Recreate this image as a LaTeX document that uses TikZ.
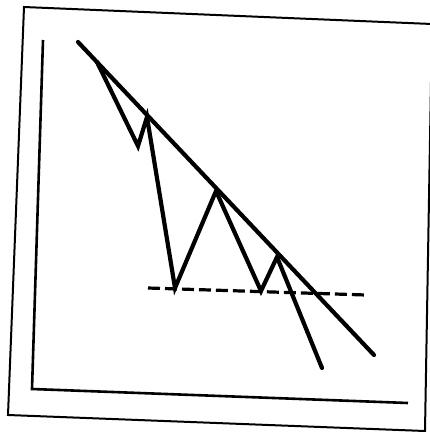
\documentclass[tikz,border=0pt]{standalone}
\begin{document}
\begin{tikzpicture}[x=1pt,y=-1pt,
  frameline/.style={line width=2pt, line join=miter},
  axisline/.style={line width=2.6pt, line join=miter},
  heavy/.style={line width=4.2pt, line cap=round, line join=miter},
  support/.style={line width=3.2pt, dash pattern=on 12pt off 5pt}]
\useasboundingbox (0,0) rectangle (430,432);
% frame
\coordinate (f1) at (24,7);
\coordinate (f2) at (432,24);
\coordinate (f3) at (425,431);
\coordinate (f4) at (8,415);
\draw[frameline] (f1) -- (f2) -- (f3) -- (f4) -- cycle;
% axes
\coordinate (ay) at (43,40);
\coordinate (ao) at (32,389);
\coordinate (ax) at (408,403);
\draw[axisline] (ay) -- (ao) -- (ax);
% trend line
\coordinate (t1) at (78,42);
\coordinate (t2) at (374,355);
\draw[heavy] (t1) -- (t2);
% price zigzag
\coordinate (p0) at (97,62);
\coordinate (p1) at (138,146);
\coordinate (p2) at (147,117);
\coordinate (p3) at (175,288);
\coordinate (p4) at (216,191);
\coordinate (p5) at (261,291);
\coordinate (p6) at (277,257);
\coordinate (p7) at (322,368);
\draw[heavy] (p0) -- (p1) -- (p2) -- (p3) -- (p4) -- (p5) -- (p6) -- (p7);
% support line
\coordinate (s1) at (148,288);
\coordinate (s2) at (366,295);
\draw[support] (s1) -- (s2);
\end{tikzpicture}
\end{document}
